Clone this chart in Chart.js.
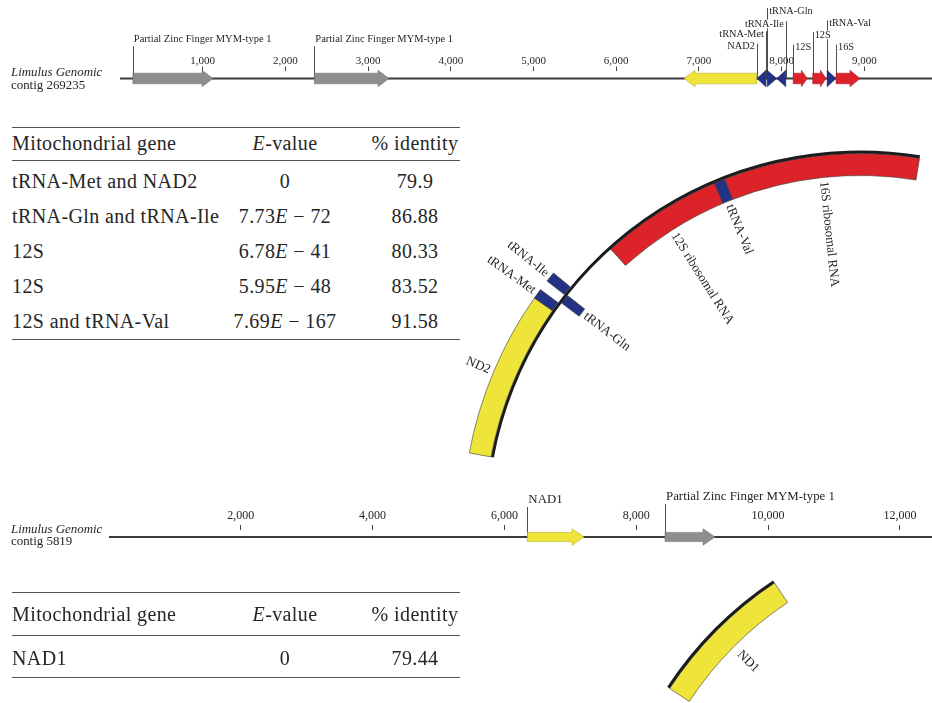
<!DOCTYPE html>
<html>
<head>
<meta charset="utf-8">
<title>Limulus genomic contigs with mitochondrial hits</title>
<script src="https://cdn.jsdelivr.net/npm/chart.js@4.4.1/dist/chart.umd.min.js"></script>
<style>
  html, body { margin: 0; padding: 0; background: #ffffff; }
  #figure { position: relative; width: 932px; height: 703px; overflow: hidden;
            font-family: "Liberation Serif", "Times New Roman", serif; color: #262626; }
  #figure canvas { position: absolute; }
  .contig { position: absolute; left: 11px; font-size: 12.9px; line-height: 13.3px; white-space: nowrap; }
  table.hits { position: absolute; left: 12px; width: 448px; border-collapse: collapse; table-layout: fixed;
               font-size: 20px; letter-spacing: 0.4px; color: #262626; }
  table.hits th { font-weight: normal; padding: 0; }
  table.hits td { padding: 0; }
  table.hits thead tr { border-top: 1.5px solid #555; border-bottom: 1.5px solid #555; }
  table.hits tbody tr:last-child { border-bottom: 1.5px solid #555; }
  table.hits tbody tr.first td { padding-top: 4px; }
  table.hits .gene { text-align: left; width: 218px; }
  table.hits .eval { text-align: center; width: 110px; }
  table.hits .ident { text-align: center; padding-left: 30px; width: 90px; }
</style>
</head>
<body>
<div id="figure">
  <canvas id="contigA" width="932" height="100" style="left:0;top:0"></canvas>
  <div class="contig" style="top:66px"><i>Limulus Genomic</i><br>contig 269235</div>
  <table class="hits" id="hitsA" style="top:126.5px"></table>
  <canvas id="arcA" width="820" height="820" style="left:450px;top:116px"></canvas>

  <canvas id="contigB" width="932" height="100" style="left:0;top:460px"></canvas>
  <div class="contig" style="top:523px;line-height:12.4px"><i>Limulus Genomic</i><br>contig 5819</div>
  <table class="hits" id="hitsB" style="top:592px"></table>
  <canvas id="arcB" width="820" height="820" style="left:571px;top:483px"></canvas>
</div>

<script>
// ---------- contig 269235 (bp) ----------
const contigATicks  = [1000, 2000, 3000, 4000, 5000, 6000, 7000, 8000, 9000];
const contigALength = 9818;
const contigAName   = ['Partial Zinc Finger MYM-type 1', 'Partial Zinc Finger MYM-type 1', 'NAD2',
                       'tRNA-Met', 'tRNA-Gln', 'tRNA-Ile', '12S', '12S', 'tRNA-Val', '16S'];
const contigAStart  = [155, 2350, 6820, 7700, 7825, 7940, 8140, 8375, 8550, 8658];
const contigAEnd    = [1125, 3253, 7700, 7810, 7940, 8050, 8310, 8537, 8658, 8948];
const contigAStrand = [1, 1, -1, -1, 1, -1, 1, 1, 1, 1];
const contigAKind   = ['zf', 'zf', 'cds', 'trna', 'trna', 'trna', 'rrna', 'rrna', 'trna', 'rrna'];

// ---------- contig 5819 (bp) ----------
const contigBTicks  = [2000, 4000, 6000, 8000, 10000, 12000];
const contigBLength = 12486;
const contigBName   = ['NAD1', 'Partial Zinc Finger MYM-type 1'];
const contigBStart  = [6348, 8436];
const contigBEnd    = [7208, 9195];
const contigBStrand = [1, 1];
const contigBKind   = ['cds', 'zf'];

// ---------- BLAST hit tables ----------
const hitsAGene     = ['tRNA-Met and NAD2', 'tRNA-Gln and tRNA-Ile', '12S', '12S', '12S and tRNA-Val'];
const hitsAEvalue   = ['0', '7.73E-72', '6.78E-41', '5.95E-48', '7.69E-167'];
const hitsAIdentity = ['79.9', '86.88', '80.33', '83.52', '91.58'];
const hitsBGene     = ['NAD1'];
const hitsBEvalue   = ['0'];
const hitsBIdentity = ['79.44'];

// ---------- mitochondrial map arcs (degrees clockwise from 12 o'clock) ----------
const mitoAName   = ['ND2', 'tRNA-Met', 'tRNA-Ile', 'tRNA-Gln', '12S ribosomal RNA', 'tRNA-Val', '16S ribosomal RNA'];
const mitoAStart  = [280.6, 305.0, 308.05, 306.75, 318.0, 337.0, 338.7];
const mitoAEnd    = [305.0, 306.5, 309.55, 308.25, 337.0, 338.7, 369.2];
const mitoAStrand = [-1, -1, -1, 1, 1, 1, 1];
const mitoAKind   = ['cds', 'trna', 'trna', 'trna', 'rrna', 'trna', 'rrna'];
const mitoBName   = ['ND1'];
const mitoBStart  = [303.3];
const mitoBEnd    = [326.35];
const mitoBStrand = [1];
const mitoBKind   = ['cds'];

// ---------- label placement (pixels above the contig line) ----------
const contigALabelRise = [39.2, 39.2, 31.8, 44.2, 67.5, 54.5, 30.8, 43.5, 55.2, 30.8];
const contigALabelMode = ['above', 'above', 'side', 'side', 'side', 'side', 'side', 'side', 'side', 'side'];
const contigBLabelRise = [37, 40];
const contigBLabelMode = ['above', 'above'];

const FONT = '"Liberation Serif", "Times New Roman", serif';
const INK = '#262626';
const FILL = { zf: '#8e8e8e', cds: '#EFE53A', trna: '#233285', rrna: '#DC2329' };
const EDGE = { zf: '#6a6a6a', cds: '#a89f25', trna: '#17215e', rrna: '#9c161b' };
const CLEAR = 'rgba(0,0,0,0)';

Chart.defaults.font.family = FONT;
Chart.defaults.color = INK;

function withCommas(v) { return String(v).replace(/\B(?=(\d{3})+(?!\d))/g, ','); }

// Gene arrows, leader lines and names along a linear contig
function featurePlugin(t) {
  return {
    id: 'features',
    afterDatasetsDraw(chart) {
      const { ctx, scales: { x, y } } = chart;
      const y0 = y.getPixelForValue(0);
      const body = t.bodyHalf, head = t.headHalf;
      const lineX = i => {
        const xs = x.getPixelForValue(t.start[i]), xe = x.getPixelForValue(t.end[i]);
        return t.strand[i] > 0 ? xs : xe;
      };
      ctx.save();
      // leader lines
      ctx.strokeStyle = '#3c3c3c';
      ctx.lineWidth = 0.9;
      t.names.forEach((n, i) => {
        const lx = Math.round(lineX(i)) + 0.5;
        const ty = y0 - t.rise[i];
        const top = t.mode[i] === 'above' ? ty + 7 : ty - 3;
        ctx.beginPath(); ctx.moveTo(lx, top); ctx.lineTo(lx, y0); ctx.stroke();
      });
      // arrows
      t.names.forEach((n, i) => {
        const xs = x.getPixelForValue(t.start[i]), xe = x.getPixelForValue(t.end[i]);
        const len = xe - xs;
        const tri = t.kind[i] === 'trna';
        const hl = tri ? len : Math.min(t.maxHead, len * 0.42);
        const dir = t.strand[i];
        const tip = dir > 0 ? xe : xs, tail = dir > 0 ? xs : xe;
        const neck = tip - dir * hl;
        ctx.beginPath();
        if (tri) {
          ctx.moveTo(tail, y0 - head); ctx.lineTo(tip, y0); ctx.lineTo(tail, y0 + head);
        } else {
          ctx.moveTo(tail, y0 - body); ctx.lineTo(neck, y0 - body); ctx.lineTo(neck, y0 - head);
          ctx.lineTo(tip, y0); ctx.lineTo(neck, y0 + head); ctx.lineTo(neck, y0 + body);
          ctx.lineTo(tail, y0 + body);
        }
        ctx.closePath();
        ctx.fillStyle = FILL[t.kind[i]];
        ctx.fill();
        ctx.strokeStyle = EDGE[t.kind[i]];
        ctx.lineWidth = 0.5;
        ctx.stroke();
      });
      // names
      ctx.textBaseline = 'middle';
      t.names.forEach((n, i) => {
        const above = t.mode[i] === 'above';
        ctx.font = (above ? t.bigFont : t.smallFont) + 'px ' + FONT;
        const lx = lineX(i);
        const ty = y0 - t.rise[i];
        let tx, align;
        if (above) { tx = lx + 1; align = 'left'; }
        else if (t.strand[i] > 0) { tx = lx + 2; align = 'left'; }
        else { tx = lx - 2; align = 'right'; }
        const w = ctx.measureText(n).width;
        const bx = align === 'left' ? tx - 0.5 : tx - w - 0.5;
        ctx.fillStyle = '#ffffff';
        ctx.fillRect(bx, ty - t.smallFont * 0.42, w + 1, t.smallFont * 0.84);
        ctx.fillStyle = INK;
        ctx.textAlign = align;
        ctx.fillText(n, tx, ty);
      });
      ctx.restore();
    }
  };
}

function contigChart(id, t) {
  return new Chart(document.getElementById(id), {
    type: 'line',
    data: { datasets: [{
      data: [{ x: 0, y: 0 }, { x: t.length, y: 0 }],
      borderColor: '#3a3a3a', borderWidth: 2, pointRadius: 0, tension: 0
    }] },
    options: {
      responsive: false, animation: false, devicePixelRatio: 1, events: [],
      layout: { padding: { top: t.padTop, left: t.padLeft, right: 0, bottom: 0 } },
      plugins: { legend: { display: false }, tooltip: { enabled: false } },
      scales: {
        x: {
          type: 'linear', position: 'top', min: 0, max: t.length,
          afterBuildTicks: s => { s.ticks = t.ticks.map(v => ({ value: v })); },
          ticks: { callback: v => withCommas(v), padding: t.tickPad, maxRotation: 0, autoSkip: false,
                   font: { size: t.tickFont, lineHeight: 1 }, color: INK },
          grid: { drawOnChartArea: false, drawTicks: true, tickLength: 4.5, color: '#444', lineWidth: 1 },
          border: { display: false }
        },
        y: { display: false, min: t.yMin, max: t.yMax }
      }
    },
    plugins: [featurePlugin(t)]
  });
}

contigChart('contigA', {
  length: contigALength, ticks: contigATicks,
  names: contigAName, start: contigAStart, end: contigAEnd, strand: contigAStrand, kind: contigAKind,
  rise: contigALabelRise, mode: contigALabelMode,
  padTop: 55.5, padLeft: 120, tickPad: 0, tickFont: 11, yMin: -21.5, yMax: 7.5,
  bodyHalf: 5.3, headHalf: 8.3, maxHead: 11, smallFont: 10.3, bigFont: 10.5
});
contigChart('contigB', {
  length: contigBLength, ticks: contigBTicks,
  names: contigBName, start: contigBStart, end: contigBEnd, strand: contigBStrand, kind: contigBKind,
  rise: contigBLabelRise, mode: contigBLabelMode,
  padTop: 47, padLeft: 108.8, tickPad: 3, tickFont: 12, yMin: -23, yMax: 7.5,
  bodyHalf: 4.6, headHalf: 8.3, maxHead: 12, smallFont: 12.8, bigFont: 12.9
});

// ---------- circular map segments ----------
function ring(names, starts, ends, kinds, strands, side, origin, labelSide) {
  const idx = names.map((_, i) => i).filter(i => strands[i] === side)
                   .sort((a, b) => starts[a] - starts[b]);
  const ds = { data: [], backgroundColor: [], borderColor: [], borderWidth: [], segmentNames: [], labelSide };
  const push = (v, bg, bc, bw, n) => {
    ds.data.push(v); ds.backgroundColor.push(bg); ds.borderColor.push(bc);
    ds.borderWidth.push(bw); ds.segmentNames.push(n);
  };
  let cursor = origin;
  idx.forEach(i => {
    if (starts[i] > cursor) push(starts[i] - cursor, CLEAR, CLEAR, 0, null);
    push(ends[i] - starts[i], FILL[kinds[i]], '#3a3a3a', 0.6, names[i]);
    cursor = ends[i];
  });
  if (origin + 360 > cursor) push(origin + 360 - cursor, CLEAR, CLEAR, 0, null);
  return ds;
}
function backbone(from, to, origin) {
  const data = [], bg = [];
  if (from > origin) { data.push(from - origin); bg.push(CLEAR); }
  data.push(to - from); bg.push('#1c1c1c');
  data.push(origin + 360 - to); bg.push(CLEAR);
  return { data, backgroundColor: bg, borderWidth: 0 };
}

function arcLabelPlugin(gap, size) {
  return {
    id: 'arcLabels',
    afterDatasetsDraw(chart) {
      const ctx = chart.ctx;
      ctx.save();
      ctx.font = size + 'px ' + FONT;
      ctx.fillStyle = INK;
      ctx.textBaseline = 'middle';
      chart.data.datasets.forEach((ds, d) => {
        if (!ds.segmentNames) return;
        chart.getDatasetMeta(d).data.forEach((arc, j) => {
          const name = ds.segmentNames[j];
          if (!name) return;
          const { x, y, startAngle, endAngle, innerRadius, outerRadius } = arc;
          const mid = (startAngle + endAngle) / 2;
          const outside = ds.labelSide === 'outside';
          const r = outside ? outerRadius + gap : innerRadius - gap;
          ctx.save();
          ctx.translate(x + r * Math.cos(mid), y + r * Math.sin(mid));
          ctx.rotate(mid + Math.PI);
          ctx.textAlign = outside ? 'right' : 'left';
          ctx.fillText(name, 0, 0);
          ctx.restore();
        });
      });
      ctx.restore();
    }
  };
}

function arcChart(id, datasets, origin, outerR, innerR, gap) {
  return new Chart(document.getElementById(id), {
    type: 'doughnut',
    data: { datasets },
    options: {
      responsive: false, animation: false, devicePixelRatio: 1, events: [],
      rotation: origin, circumference: 360,
      radius: outerR, cutout: (innerR / outerR * 100) + '%',
      layout: { padding: 0 },
      plugins: { legend: { display: false }, tooltip: { enabled: false } }
    },
    plugins: [arcLabelPlugin(gap, 13)]
  });
}

// contig 269235 hits: minor-strand genes outside the circle, major-strand inside
const originA = Math.min(...mitoAStart);
const outerA = Object.assign(ring(mitoAName, mitoAStart, mitoAEnd, mitoAKind, mitoAStrand, -1, originA, 'outside'), { weight: 22 });
const coreA  = Object.assign(backbone(originA, Math.max(...mitoAEnd), originA), { weight: 3 });
const innerA = Object.assign(ring(mitoAName, mitoAStart, mitoAEnd, mitoAKind, mitoAStrand, 1, originA, 'inside'), { weight: 22 });
arcChart('arcA', [outerA, coreA, innerA], originA, 397.5, 350.5, 4);

// contig 5819 hit
const originB = Math.min(...mitoBStart);
const coreB  = Object.assign(backbone(originB, Math.max(...mitoBEnd), originB), { weight: 3 });
const innerB = Object.assign(ring(mitoBName, mitoBStart, mitoBEnd, mitoBKind, mitoBStrand, 1, originB, 'inside'), { weight: 23.5 });
arcChart('arcB', [coreB, innerB], originB, 375.5, 349, 8);

// ---------- hit tables ----------
function fmtE(v) {
  if (v.indexOf('E') < 0) return v;
  const [m, e] = v.split('E');
  return m + '<i>E</i> \u2212 ' + e.replace('-', '');
}
function hitTable(id, genes, evals, idents, headH, rowH, firstH) {
  const head = '<thead><tr style="height:' + headH + 'px"><th class="gene">Mitochondrial gene</th>' +
               '<th class="eval"><i>E</i>-value</th><th class="ident">% identity</th></tr></thead>';
  const body = genes.map((g, i) => '<tr' + (i === 0 ? ' class="first"' : '') + ' style="height:' +
               (i === 0 ? firstH : rowH) + 'px"><td class="gene">' + g +
               '</td><td class="eval">' + fmtE(evals[i]) + '</td><td class="ident">' + idents[i] + '</td></tr>').join('');
  document.getElementById(id).innerHTML = head + '<tbody>' + body + '</tbody>';
}
hitTable('hitsA', hitsAGene, hitsAEvalue, hitsAIdentity, 33, 35, 39);
hitTable('hitsB', hitsBGene, hitsBEvalue, hitsBIdentity, 43, 42, 42);
</script>
</body>
</html>
